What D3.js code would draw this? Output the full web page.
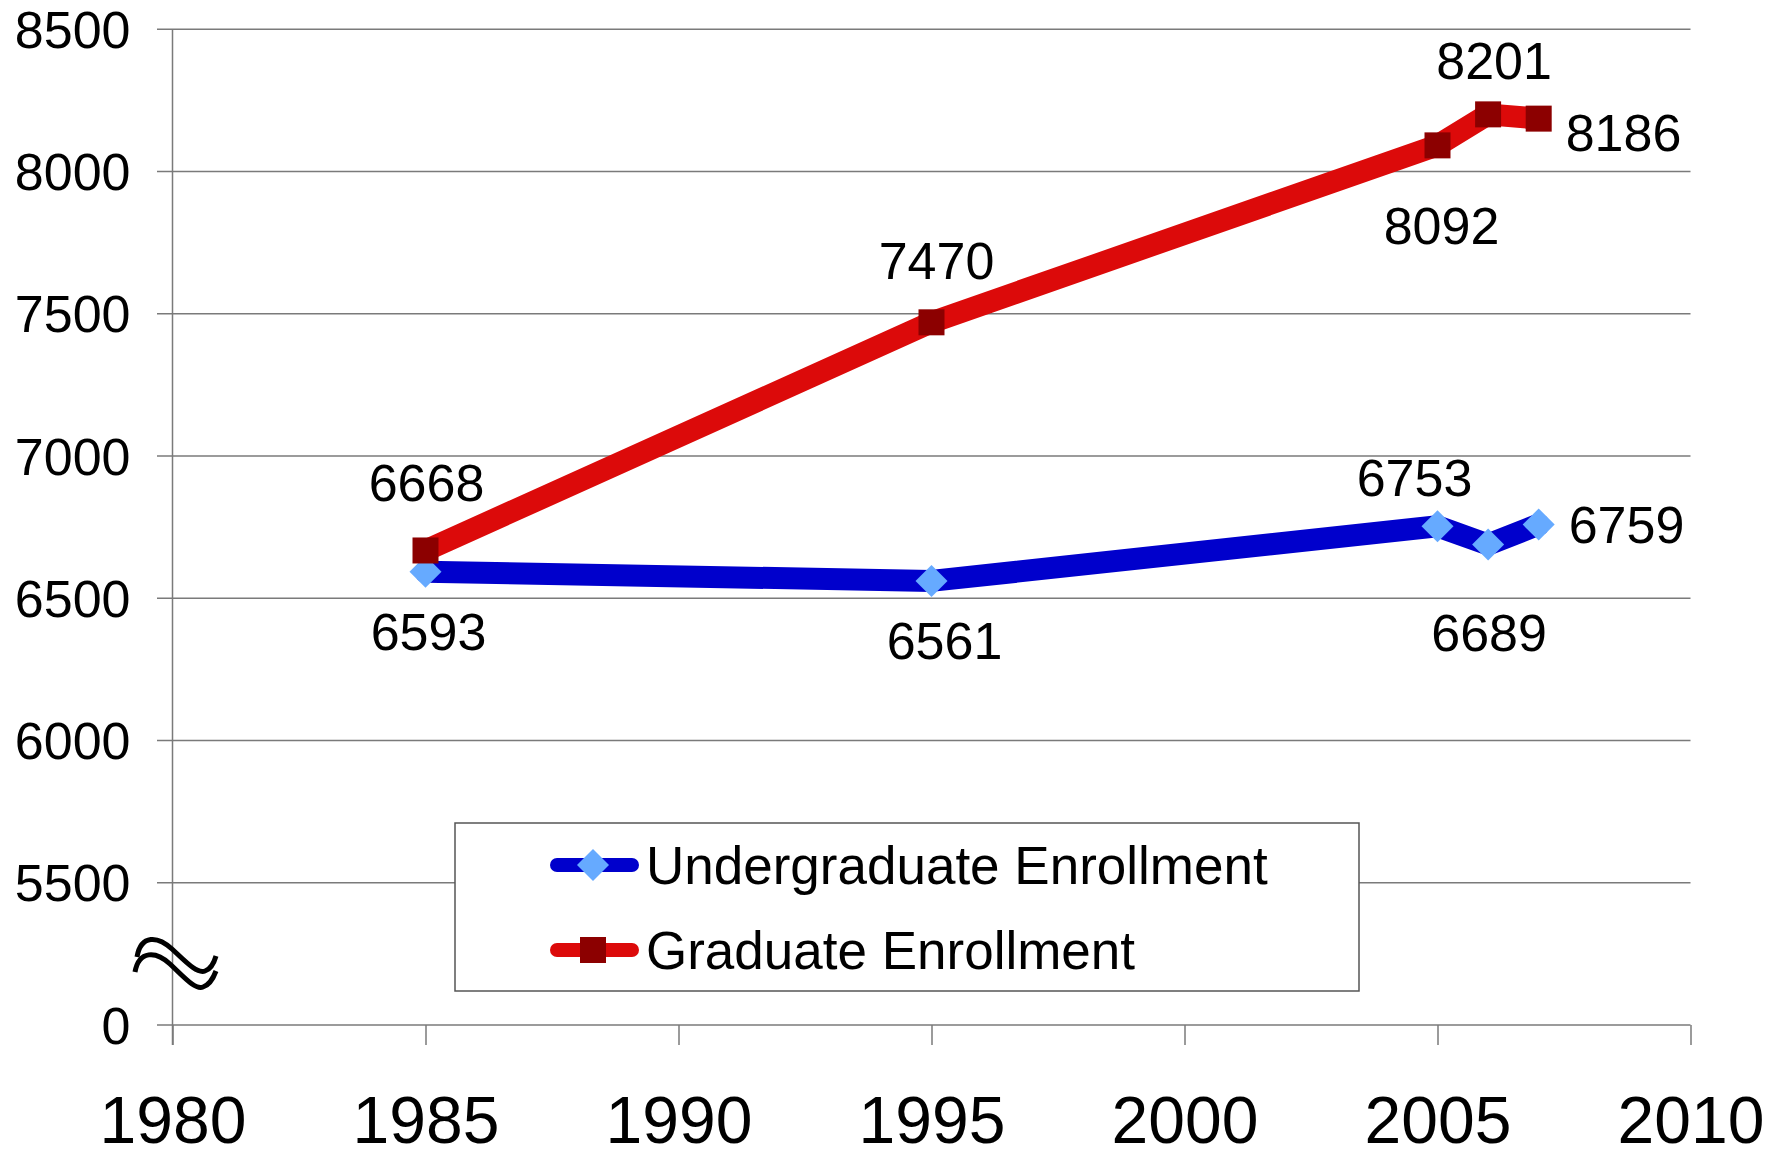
<!DOCTYPE html>
<html>
<head>
<meta charset="utf-8">
<script src="https://cdn.jsdelivr.net/npm/d3@7/dist/d3.min.js"></script>
<style>
  html, body { margin: 0; padding: 0; background: #fff; }
  svg { display: block; font-family: "Liberation Sans", Arial, sans-serif; }
</style>
</head>
<body>
<svg id="chart" width="1790" height="1151"></svg>
<script>
// ---- data ----
const years = [1985, 1995, 2005, 2006, 2007];
const undergrad = [6593, 6561, 6753, 6689, 6759];
const graduate = [6668, 7470, 8092, 8201, 8186];
const seriesNames = ["Undergraduate Enrollment", "Graduate Enrollment"];
const xTicks = [1980, 1985, 1990, 1995, 2000, 2005, 2010];
const yTicks = [5000, 5500, 6000, 6500, 7000, 7500, 8000, 8500];
const yTickLabels = ["0", "5500", "6000", "6500", "7000", "7500", "8000", "8500"];

// ---- label placement (layout only) ----
const ugLabelPos = [
  {dx: 3, dy: 78, anchor: "middle"},
  {dx: 13, dy: 78, anchor: "middle"},
  {dx: -23, dy: -30, anchor: "middle"},
  {dx: 1, dy: 106, anchor: "middle"},
  {dx: 30, dy: 18, anchor: "start"}
];
const grLabelPos = [
  {dx: 1, dy: -49, anchor: "middle"},
  {dx: 5, dy: -43, anchor: "middle"},
  {dx: 4, dy: 99, anchor: "middle"},
  {dx: 6, dy: -35, anchor: "middle"},
  {dx: 27, dy: 32, anchor: "start"}
];

const svg = d3.select("#chart");
const x = d3.scaleLinear().domain([1980, 2010]).range([172.5, 1690.5]);
const y = d3.scaleLinear().domain([5000, 8500]).range([1025, 29.3]);
const gridColor = "#7a7a7a";

// gridlines
svg.append("g").selectAll("line").data(yTicks).join("line")
  .attr("x1", 157).attr("x2", x(2010))
  .attr("y1", d => y(d)).attr("y2", d => y(d))
  .attr("stroke", gridColor).attr("stroke-width", 1.5);

// y axis
const yAxis = svg.append("g").attr("transform", `translate(${x(1980)},0)`)
  .call(d3.axisLeft(y).tickValues(yTicks)
    .tickFormat((d, i) => yTickLabels[i]).tickSize(0).tickPadding(42));
yAxis.select(".domain").remove();
yAxis.selectAll("text").attr("dy", null).attr("y", 18)
  .attr("font-size", 52).attr("fill", "#000")
  .attr("font-family", "'Liberation Sans', Arial, sans-serif");

// x axis
const xAxis = svg.append("g").attr("transform", `translate(0,${y(5000)})`)
  .call(d3.axisBottom(x).tickValues(xTicks).tickFormat(d3.format("d")).tickSize(20));
xAxis.select(".domain").remove();
xAxis.selectAll(".tick line").attr("stroke", gridColor).attr("stroke-width", 1.5);
xAxis.selectAll("text").attr("dy", null).attr("y", 118)
  .attr("font-size", 66).attr("fill", "#000")
  .attr("font-family", "'Liberation Sans', Arial, sans-serif");

// vertical axis line
svg.append("line")
  .attr("x1", x(1980)).attr("x2", x(1980))
  .attr("y1", y(8500)).attr("y2", y(5000) + 20)
  .attr("stroke", gridColor).attr("stroke-width", 1.5);

// axis break symbol
const brk = svg.append("g").attr("fill", "none").attr("stroke", "#000")
  .attr("stroke-width", 5).attr("stroke-linecap", "butt");
brk.append("path").attr("d", "M137,957 C141,934 158,936 172,949 C186,962 197,974 205,971 C211,969 214,963 216,956");
brk.append("path").attr("d", "M135,972 C139,950 156,951 170,964 C184,977 195,990 203,987 C209,985 213,979 216,971");

// series
const line = d3.line().x(d => x(d[0])).y(d => y(d[1]));
const ugData = years.map((yr, i) => [yr, undergrad[i]]);
const grData = years.map((yr, i) => [yr, graduate[i]]);

const diamond = d3.symbol(d3.symbolSquare, 512);
const square = d3.symbol(d3.symbolSquare, 676);

svg.append("path").datum(ugData).attr("d", line)
  .attr("fill", "none").attr("stroke", "#0000cc").attr("stroke-width", 22)
  .attr("stroke-linecap", "round").attr("stroke-linejoin", "round");
svg.append("g").selectAll("path").data(ugData).join("path")
  .attr("d", diamond)
  .attr("transform", d => `translate(${x(d[0])},${y(d[1])}) rotate(45)`)
  .attr("fill", "#66aaff");

svg.append("path").datum(grData).attr("d", line)
  .attr("fill", "none").attr("stroke", "#dc0a0a").attr("stroke-width", 22)
  .attr("stroke-linecap", "round").attr("stroke-linejoin", "round");
svg.append("g").selectAll("path").data(grData).join("path")
  .attr("d", square)
  .attr("transform", d => `translate(${x(d[0])},${y(d[1])})`)
  .attr("fill", "#8c0000");

// data labels
function labels(data, pos) {
  svg.append("g").selectAll("text").data(data).join("text")
    .attr("x", (d, i) => x(d[0]) + pos[i].dx)
    .attr("y", (d, i) => y(d[1]) + pos[i].dy)
    .attr("text-anchor", (d, i) => pos[i].anchor)
    .attr("font-size", 52).attr("fill", "#000")
    .text(d => d[1]);
}
labels(ugData, ugLabelPos);
labels(grData, grLabelPos);

// legend
const lg = svg.append("g");
lg.append("rect").attr("x", 455).attr("y", 823).attr("width", 904).attr("height", 168)
  .attr("fill", "#fff").attr("stroke", "#555").attr("stroke-width", 1.5);
const legendItems = [
  {name: seriesNames[0], color: "#0000cc", mColor: "#66aaff", sym: diamond, rot: 45, ly: 865},
  {name: seriesNames[1], color: "#dc0a0a", mColor: "#8c0000", sym: square, rot: 0, ly: 950}
];
legendItems.forEach(it => {
  lg.append("line").attr("x1", 557).attr("x2", 632).attr("y1", it.ly).attr("y2", it.ly)
    .attr("stroke", it.color).attr("stroke-width", 14).attr("stroke-linecap", "round");
  lg.append("path").attr("d", it.sym)
    .attr("transform", `translate(593,${it.ly}) rotate(${it.rot})`)
    .attr("fill", it.mColor);
  lg.append("text").attr("x", 646).attr("y", it.ly + 19)
    .attr("font-size", 53).attr("fill", "#000").text(it.name);
});
</script>
</body>
</html>
